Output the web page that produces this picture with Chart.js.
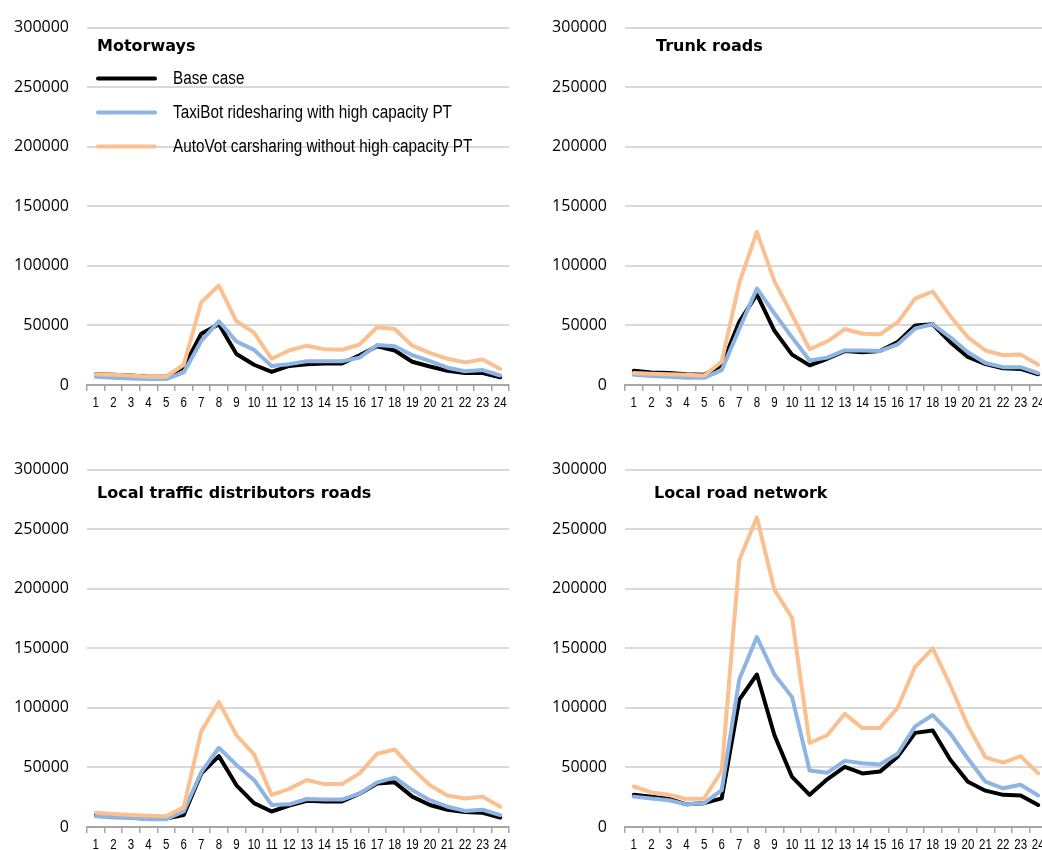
<!DOCTYPE html>
<html>
<head>
<meta charset="utf-8">
<title>Hourly traffic by road type</title>
<script src="https://cdn.jsdelivr.net/npm/chart.js@4.4.1/dist/chart.umd.min.js"></script>
<style>
    html, body { margin: 0; padding: 0; background: #fff; }
    body { width: 1042px; height: 850px; position: relative; overflow: hidden; }
    canvas { position: absolute; }
    #motorways { left: 0; top: 0; }
    #trunk { left: 538px; top: 0; }
    #distributors { left: 0; top: 442px; }
    #local { left: 538px; top: 442px; }
</style>
</head>
<body>
<canvas id="motorways" width="520" height="420"></canvas>
<canvas id="trunk" width="520" height="420"></canvas>
<canvas id="distributors" width="520" height="420"></canvas>
<canvas id="local" width="520" height="420"></canvas>

<script>
const hours = ['1', '2', '3', '4', '5', '6', '7', '8', '9', '10', '11', '12',
    '13', '14', '15', '16', '17', '18', '19', '20', '21', '22', '23', '24'];
const yTicks = [0, 50000, 100000, 150000, 200000, 250000, 300000];
const seriesNames = ['Base case', 'TaxiBot ridesharing with high capacity PT', 'AutoVot carsharing without high capacity PT'];
const seriesColors = ['#000000', '#8DB4E2', '#FAC090'];

// Motorways
const motorwaysBase = [9000, 8500, 8000, 7000, 7000, 15000, 43000, 51000, 26000, 17000, 11000, 16000,
    17500, 18000, 18000, 25000, 32500, 29000, 19500, 15500, 12000, 10000, 10000, 6500];
const motorwaysTaxiBot = [7000, 6000, 5500, 5000, 5000, 10500, 37000, 53500, 36500, 29500, 16000, 17500,
    20000, 20000, 20000, 23000, 33500, 32500, 25000, 20000, 14500, 11500, 12500, 8000];
const motorwaysAutoVot = [9000, 8500, 8000, 7000, 7000, 17000, 69500, 83500, 53500, 44000, 22000, 29000,
    33000, 30000, 29500, 34000, 48500, 47000, 33000, 27000, 22000, 19000, 21500, 13500];

// Trunk roads
const trunkBase = [12000, 10500, 10000, 9000, 8500, 16500, 53000, 76000, 45500, 25500, 16500, 22000,
    28500, 27500, 28500, 36000, 50000, 51000, 36000, 23500, 17500, 14000, 13500, 9000];
const trunkTaxiBot = [8500, 7500, 7000, 6000, 6000, 12500, 47000, 81000, 60000, 40000, 20500, 23000,
    29000, 29000, 28500, 34000, 47500, 51000, 40000, 27500, 18500, 15000, 15000, 10000];
const trunkAutoVot = [10000, 9500, 9000, 8500, 8000, 19500, 85500, 128500, 87000, 59000, 30000, 36500,
    47000, 43000, 42500, 52500, 72500, 78500, 58000, 40000, 29000, 25000, 25500, 17000];

// Local traffic distributors roads
const distributorsBase = [10000, 9000, 8000, 7000, 7000, 10000, 45000, 59500, 35000, 20000, 13000, 18000,
    22000, 21500, 21500, 28000, 36500, 37500, 25500, 18500, 14500, 12500, 12000, 8000];
const distributorsTaxiBot = [9000, 8000, 7500, 6500, 6500, 13000, 46000, 66500, 52000, 39500, 18500, 19000,
    23500, 23000, 23000, 28000, 37500, 41500, 31000, 22500, 17000, 13500, 14500, 10000];
const distributorsAutoVot = [12000, 11000, 10000, 9500, 9000, 16500, 80500, 105000, 77000, 61000, 27000, 32000,
    39500, 36000, 36000, 45000, 61500, 65000, 49000, 35000, 26500, 24000, 25500, 17000];

// Local road network
const localBase = [27000, 25500, 23500, 19000, 20000, 24000, 107000, 128000, 77000, 42000, 27000, 40000,
    50500, 45000, 46500, 59000, 79000, 81000, 56500, 38000, 30500, 27000, 26500, 18500];
const localTaxiBot = [25500, 24000, 22500, 19000, 20000, 31000, 124000, 159500, 128000, 109000, 47500, 45500,
    55500, 53500, 52500, 61500, 84500, 94000, 78500, 57500, 38000, 32500, 35500, 26500];
const localAutoVot = [34000, 29000, 27000, 23500, 24000, 47000, 224000, 260000, 199000, 175500, 70500, 77000,
    95000, 83000, 83000, 100000, 134500, 150000, 119000, 85000, 58500, 54000, 59500, 45000];

// no narrow font installed, so squeeze Liberation Sans horizontally
function narrowText(ctx, text, x, y, align, squeeze) {
    ctx.save();
    ctx.translate(x, y);
    ctx.scale(squeeze, 1);
    ctx.textAlign = align;
    ctx.fillText(text, 0, 0);
    ctx.restore();
}

// panel heading, hour labels and (optionally) the line legend
const panelText = {
    id: 'panelText',
    afterDraw(chart, args, opts) {
        const { ctx, chartArea } = chart;
        const xScale = chart.scales.x;
        ctx.save();
        ctx.fillStyle = '#000';

        // hour labels under the axis
        ctx.textBaseline = 'middle';
        ctx.font = '14px "Liberation Sans", Arial, sans-serif';
        hours.forEach((h, i) => {
            narrowText(ctx, h, xScale.getPixelForTick(i), xScale.top + 18, 'center', 0.82);
        });

        ctx.font = 'bold 16px "DejaVu Sans", sans-serif';
        ctx.textAlign = 'left';
        ctx.fillText(opts.title, chartArea.left + opts.titleX, chartArea.top + opts.titleY);

        if (opts.legend) {
            ctx.font = '18px "Liberation Sans", Arial, sans-serif';
            chart.data.datasets.forEach((ds, i) => {
                const y = chartArea.top + 51 + i * 34;
                ctx.beginPath();
                ctx.lineWidth = 4;
                ctx.lineCap = 'round';
                ctx.strokeStyle = ds.borderColor;
                ctx.moveTo(chartArea.left + 11, y);
                ctx.lineTo(chartArea.left + 68, y);
                ctx.stroke();
                narrowText(ctx, ds.label, chartArea.left + 86, y, 'left', 0.85);
            });
        }
        ctx.restore();
    }
};

function drawPanel(id, title, base, taxiBot, autoVot, titleX, titleY, legend) {
    const ctx = document.getElementById(id).getContext('2d');
    const values = [base, taxiBot, autoVot];

    new Chart(ctx, {
        type: 'line',
        data: {
            labels: hours,
            datasets: values.map((v, i) => ({
                label: seriesNames[i],
                data: v,
                borderColor: seriesColors[i],
                backgroundColor: seriesColors[i],
                borderWidth: 4,
                tension: 0,
                pointRadius: 0,
                borderJoinStyle: 'round',
                borderCapStyle: 'round',
                order: 2 - i   // orange on top, black underneath
            }))
        },
        options: {
            responsive: false,
            animation: false,
            events: [],
            layout: { padding: { top: 22, right: 11, left: 0, bottom: 0 } },
            plugins: {
                legend: { display: false },
                tooltip: { enabled: false },
                panelText: { title, titleX, titleY, legend }
            },
            scales: {
                x: {
                    offset: true,
                    grid: {
                        offset: true,
                        drawOnChartArea: false,
                        drawTicks: true,
                        tickLength: 6,
                        color: '#A6A6A6',
                        lineWidth: 1.5
                    },
                    border: { display: true, color: '#A6A6A6', width: 2 },
                    // labels are painted condensed by panelText
                    ticks: { autoSkip: false, maxRotation: 0, color: 'rgba(0,0,0,0)', font: { size: 12 } },
                    afterFit(scale) { scale.height = 35; }
                },
                y: {
                    min: 0,
                    max: 300000,
                    afterBuildTicks(scale) { scale.ticks = yTicks.map(v => ({ value: v })); },
                    grid: { color: '#D9D9D9', lineWidth: 2, drawTicks: false },
                    border: { display: false },
                    ticks: {
                        padding: 18,
                        color: '#000',
                        font: { family: '"Open Sans", sans-serif', size: 16 },
                        callback: v => String(v)
                    },
                    afterFit(scale) { scale.width = 87; }
                }
            }
        },
        plugins: [panelText]
    });
}

document.addEventListener("DOMContentLoaded", () => {
    drawPanel('motorways', 'Motorways', motorwaysBase, motorwaysTaxiBot, motorwaysAutoVot, 10, 19, true);
    drawPanel('trunk', 'Trunk roads', trunkBase, trunkTaxiBot, trunkAutoVot, 31, 19, false);
    drawPanel('distributors', 'Local traffic distributors roads', distributorsBase, distributorsTaxiBot, distributorsAutoVot, 10, 24, false);
    drawPanel('local', 'Local road network', localBase, localTaxiBot, localAutoVot, 29, 24, false);
});
</script>
</body>
</html>
